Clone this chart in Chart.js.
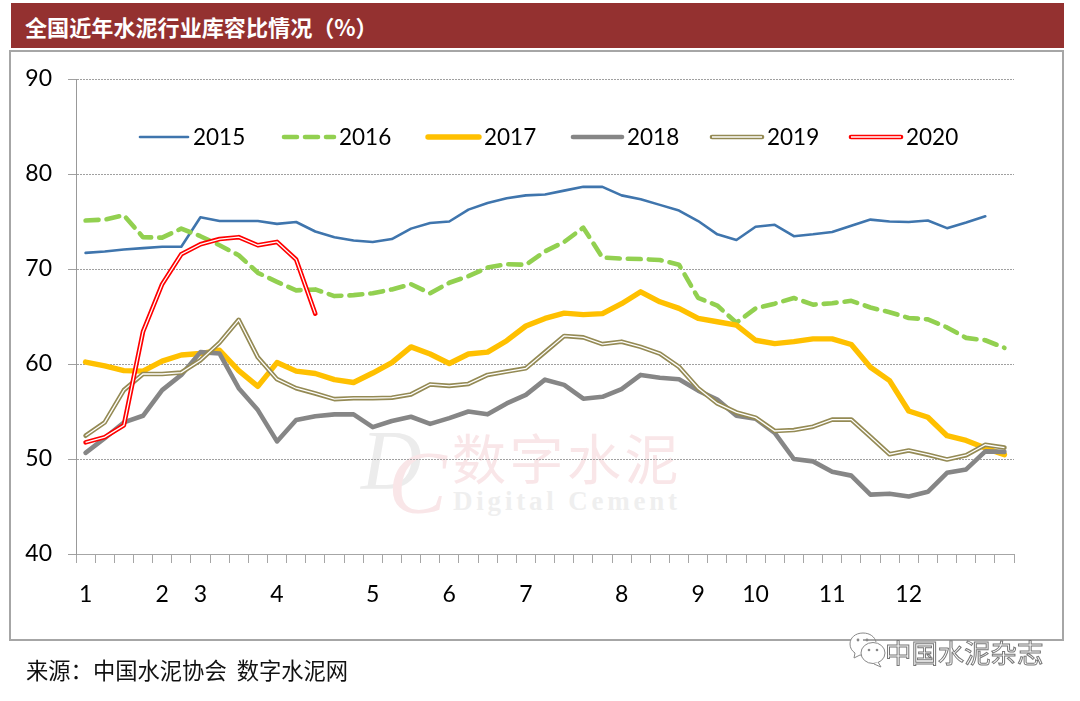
<!DOCTYPE html>
<html>
<head>
<meta charset="utf-8">
<title>全国近年水泥行业库容比情况</title>
<script src="https://cdn.jsdelivr.net/npm/chart.js@4"></script>
<style>
  html, body { margin: 0; padding: 0; background: #fff; }
  #page { position: relative; width: 1080px; height: 701px; overflow: hidden; font-family: "Noto Sans CJK SC", sans-serif; }
  #page > * { position: absolute; white-space: nowrap; }
  #titleBar { left: 11px; top: 3px; width: 1053px; height: 45px; background: #943130; color: #fff; font-size: 22.1px; font-weight: 700; line-height: 46px; text-indent: 14px; }
  #box { left: 9px; top: 50px; width: 1051px; height: 587px; border: 2px solid #a6a6a6; background: #fff; }
  #source { left: 26px; top: 654px; font-size: 22.3px; line-height: 30px; color: #111; }
  #wmD { left: 361px; top: 412px; font: italic 84px "Liberation Serif", serif; color: #ececec; }
  #wmC { left: 388px; top: 432px; font: italic 88px "Liberation Serif", serif; color: #f9e6e8; }
  #wmCn { left: 452px; top: 422px; font-size: 54px; line-height: 70px; letter-spacing: 3.5px; color: #f9e6e8; }
  #wmEn { left: 453px; top: 486px; font: bold 27px "Liberation Serif", serif; letter-spacing: 3.8px; color: #efefef; }
  #chart { left: 0; top: 0; }
  #wxIcon { left: 848px; top: 630px; }
  #wxName { left: 885px; top: 632px; font-size: 26.4px; line-height: 40px; color: #fff; -webkit-text-stroke: 1px #777; }
</style>
</head>
<body>
<div id="page">
  <div id="titleBar">全国近年水泥行业库容比情况（%）</div>
  <div id="box"></div>
  <div id="wmD">D</div>
  <div id="wmC">C</div>
  <div id="wmCn">数字水泥</div>
  <div id="wmEn">Digital Cement</div>
  <canvas id="chart" width="1080" height="701"></canvas>
  <div id="source">来源：中国水泥协会&nbsp;&nbsp;数字水泥网</div>
  <svg id="wxIcon" width="38" height="42" viewBox="0 0 38 42">
    <path d="M15 3C7 3 2 8 2 14c0 4 2 7 5 9l-1 5 6-3c1 0 2 .4 3 .4" fill="#fff" stroke="#888" stroke-width="1"/>
    <path d="M15 3c7 0 12 4 13 9" fill="none" stroke="#888" stroke-width="1"/>
    <ellipse cx="25" cy="23" rx="12" ry="10.5" fill="#fff" stroke="#888" stroke-width="1"/>
    <path d="M30 32l3 5-7-3" fill="#fff" stroke="#888" stroke-width="1"/>
    <circle cx="10" cy="10" r="1.4" fill="#888"/><circle cx="19" cy="10" r="1.4" fill="#888"/>
    <circle cx="21" cy="20" r="1.3" fill="#888"/><circle cx="29" cy="20" r="1.3" fill="#888"/>
  </svg>
  <div id="wxName">中国水泥杂志</div>
</div>
<script>
// month labels sit on the first week of each month, the rest stay blank
const categories = ['1','','','','2','','3','','','','4','','','','','5','','','','6','','','','7','','','','','8','','','','9','','','10','','','','11','','','','12','','','','',''];
const seriesNames = ['2015', '2016', '2017', '2018', '2019', '2020'];
const yTicks = [40, 50, 60, 70, 80, 90];

const values2015 = [71.7,71.85,72.05,72.2,72.35,72.35,75.45,75.05,75.05,75.05,74.75,74.95,73.95,73.35,73.0,72.85,73.15,74.25,74.85,75.0,76.25,76.95,77.45,77.75,77.85,78.25,78.65,78.65,77.75,77.35,76.75,76.15,75.05,73.65,73.05,74.45,74.65,73.45,73.65,73.9,74.55,75.2,75.0,74.95,75.1,74.3,74.9,75.55];
const values2016 = [75.1,75.2,75.65,73.35,73.3,74.25,73.45,72.5,71.45,69.6,68.65,67.75,67.85,67.15,67.25,67.45,67.85,68.4,67.45,68.55,69.25,70.15,70.5,70.45,71.85,72.85,74.35,71.2,71.1,71.05,70.95,70.45,66.95,66.15,64.35,65.85,66.35,66.95,66.25,66.4,66.65,65.95,65.45,64.85,64.7,63.85,62.75,62.5,61.7];
const values2017 = [60.2,59.8,59.3,59.25,60.3,60.95,61.1,61.45,59.3,57.65,60.15,59.25,59.0,58.35,58.05,59.05,60.15,61.8,61.05,60.05,61.05,61.25,62.45,64.0,64.8,65.35,65.2,65.3,66.35,67.6,66.55,65.85,64.8,64.45,64.1,62.5,62.15,62.35,62.65,62.65,62.05,59.65,58.25,55.05,54.4,52.45,51.95,51.15,50.45];
const values2018 = [50.65,52.2,53.85,54.55,57.25,58.85,61.25,61.1,57.45,55.15,51.85,54.1,54.5,54.7,54.7,53.35,54.0,54.45,53.7,54.3,55.0,54.7,55.85,56.75,58.35,57.8,56.35,56.55,57.35,58.85,58.55,58.4,57.2,56.25,54.55,54.25,52.75,50.0,49.75,48.65,48.25,46.25,46.35,46.05,46.55,48.55,48.9,50.8,50.75];
const values2019 = [52.45,53.85,57.25,58.95,58.95,59.1,60.4,62.25,64.65,60.7,58.4,57.45,56.9,56.3,56.4,56.4,56.45,56.8,57.85,57.7,57.9,58.85,59.2,59.55,61.25,62.95,62.8,62.1,62.35,61.8,61.1,59.7,57.45,55.85,54.9,54.35,52.95,53.05,53.4,54.15,54.15,52.35,50.5,50.9,50.45,49.95,50.4,51.5,51.2];
const values2020 = [51.75,52.3,53.55,63.4,68.4,71.55,72.6,73.15,73.35,72.5,72.85,71.0,65.3];

const seriesValues = [values2015, values2016, values2017, values2018, values2019, values2020];
const seriesColors = ['#3f75ad', '#92d050', '#ffc000', '#868686', '#948a54', '#ff0000'];
const seriesWidths = [2.6, 4.6, 5.4, 4.6, 4.6, 4.6];
const seriesDashes = [[], [13, 8], [], [], [], []];
const compoundLines = ['2019', '2020'];

// legend spots as in the source sheet: they are not evenly spaced
const legendLeft = [140, 284, 428, 573, 712, 851];
const legendRight = [188, 334, 479, 622, 762, 901];
const legendY = 137;

const compoundPlugin = {
    id: 'compoundPlugin',
    afterDatasetDraw(chart, args) {
        if (!compoundLines.includes(chart.data.datasets[args.index].label)) return;
        const ctx = chart.ctx;
        ctx.save();
        ctx.beginPath();
        args.meta.data.forEach((pt, i) => {
            if (i === 0) ctx.moveTo(pt.x, pt.y);
            else ctx.lineTo(pt.x, pt.y);
        });
        ctx.strokeStyle = '#fff';
        ctx.lineWidth = 1.3;
        ctx.lineJoin = 'miter';
        ctx.stroke();
        ctx.restore();
    }
};

const legendPlugin = {
    id: 'legendPlugin',
    afterDraw(chart) {
        const ctx = chart.ctx;
        ctx.save();
        chart.data.datasets.forEach((ds, i) => {
            ctx.beginPath();
            ctx.moveTo(legendLeft[i], legendY);
            ctx.lineTo(legendRight[i], legendY);
            ctx.strokeStyle = ds.borderColor;
            ctx.lineWidth = ds.borderWidth;
            ctx.lineCap = 'round';
            ctx.setLineDash(ds.borderDash);
            ctx.stroke();
            ctx.setLineDash([]);
            if (compoundLines.includes(ds.label)) {
                ctx.beginPath();
                ctx.moveTo(legendLeft[i], legendY);
                ctx.lineTo(legendRight[i], legendY);
                ctx.strokeStyle = '#fff';
                ctx.lineWidth = 1.3;
                ctx.lineCap = 'butt';
                ctx.stroke();
            }
            ctx.fillStyle = '#000';
            ctx.font = '22.5px Lato';
            ctx.textAlign = 'left';
            ctx.textBaseline = 'middle';
            ctx.fillText(ds.label, legendRight[i] + 5, legendY + 1);
        });
        ctx.restore();
    }
};

new Chart(document.getElementById('chart'), {
    type: 'line',
    data: {
        labels: categories,
        datasets: seriesNames.map((name, i) => ({
            label: name,
            data: seriesValues[i],
            borderColor: seriesColors[i],
            borderWidth: seriesWidths[i],
            borderDash: seriesDashes[i],
            borderCapStyle: 'round',
            borderJoinStyle: 'round',
            pointRadius: 0,
            tension: 0,
            fill: false,
            order: seriesNames.length - i // later years lie on top
        }))
    },
    plugins: [compoundPlugin, legendPlugin],
    options: {
        responsive: false,
        animation: false,
        layout: { padding: { left: 0, right: 66, top: 79, bottom: 0 } },
        plugins: { legend: { display: false }, tooltip: { enabled: false } },
        scales: {
            x: {
                offset: true,
                afterFit: scale => { scale.height = 147; },
                border: { color: '#a6a6a6', width: 1 },
                grid: { offset: true, drawOnChartArea: false, drawTicks: true, tickLength: 9, color: '#a6a6a6' },
                ticks: { autoSkip: false, maxRotation: 0, minRotation: 0, padding: 18, color: '#000', font: { family: 'Lato', size: 23 } }
            },
            y: {
                min: 40,
                max: 90,
                afterBuildTicks: scale => { scale.ticks = yTicks.map(value => ({ value })); },
                afterFit: scale => { scale.width = 76; },
                border: { color: '#999', width: 1, dash: [2, 1] },
                grid: { color: '#a0a0a0', lineWidth: 1, tickLength: 8 },
                ticks: { padding: 16, color: '#000', font: { family: 'Lato', size: 23 } }
            }
        }
    }
});
</script>
</body>
</html>
